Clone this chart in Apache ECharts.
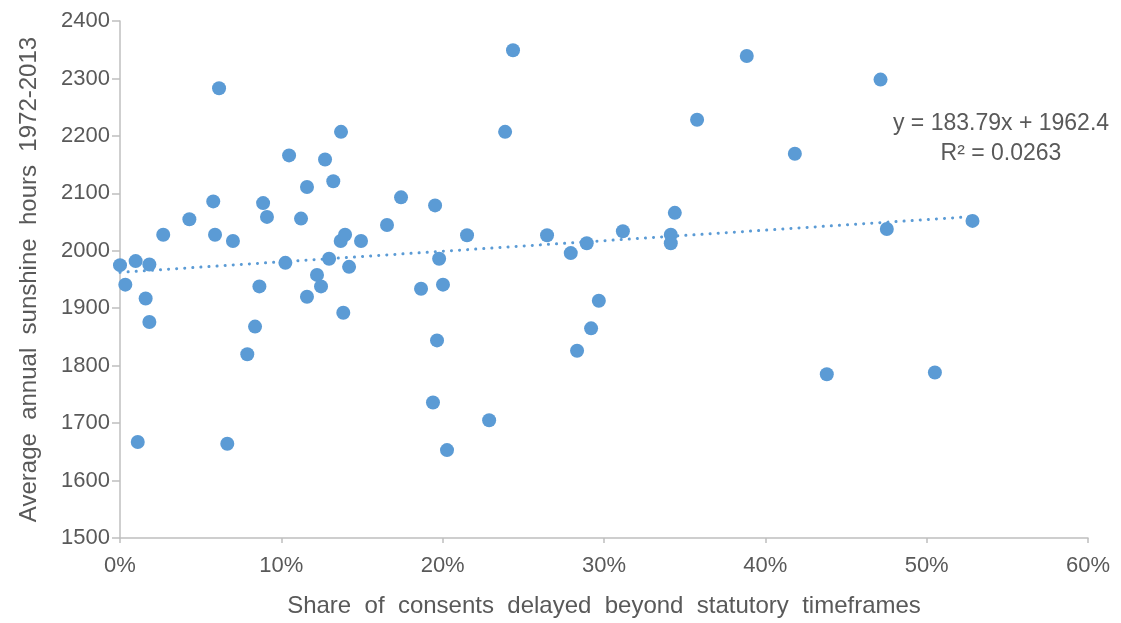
<!DOCTYPE html>
<html>
<head>
<meta charset="utf-8">
<script src="https://cdn.jsdelivr.net/npm/echarts@6/dist/echarts.min.js"></script>
<style>
html,body{margin:0;padding:0;background:#fff;}
#chart{width:1121px;height:623px;}
</style>
</head>
<body>
<div id="chart"></div>
<script>
// Share of consents delayed (fraction)
var shareDelayed = [
  0.0000, 0.0033, 0.0097, 0.0182, 0.0159, 0.0182, 0.0110, 0.0268, 0.0430, 0.0578,
  0.0589, 0.0614, 0.0700, 0.0665, 0.0789, 0.0837, 0.0864, 0.0887, 0.0911, 0.1048,
  0.1025, 0.1122, 0.1159, 0.1159, 0.1221, 0.1246, 0.1271, 0.1322, 0.1296, 0.1370,
  0.1368, 0.1395, 0.1384, 0.1420, 0.1494, 0.1655, 0.1742, 0.2436, 0.2387, 0.1953,
  0.2151, 0.1978, 0.1866, 0.2002, 0.1965, 0.1940, 0.2288, 0.2027, 0.2647, 0.2794,
  0.2893, 0.2968, 0.2920, 0.2833, 0.3117, 0.3439, 0.3414, 0.3414, 0.3885, 0.4714,
  0.3577, 0.4183, 0.4753, 0.5284, 0.4381, 0.5051
];
// Average annual sunshine hours 1972-2013
var sunshineHours = [
  1975, 1941, 1982, 1976, 1917, 1876, 1667, 2028, 2055, 2086,
  2028, 2283, 2017, 1664, 1820, 1868, 1938, 2083, 2059, 2166,
  1979, 2056, 2111, 1920, 1958, 1938, 2159, 2121, 1986, 2207,
  2017, 2028, 1892, 1972, 2017, 2045, 2093, 2349, 2207, 2079,
  2027, 1986, 1934, 1941, 1844, 1736, 1705, 1653, 2027, 1996,
  2013, 1913, 1865, 1826, 2034, 2066, 2028, 2013, 2339, 2298,
  2228, 2169, 2038, 2052, 1785, 1788
];
var trendSlope = 183.79;
var trendIntercept = 1962.4;
var trendLabel = 'y = 183.79x + 1962.4\nR² = 0.0263';
var xAxisTitle = 'Share  of  consents  delayed  beyond  statutory  timeframes';
var yAxisTitle = 'Average  annual  sunshine  hours  1972-2013';

var points = shareDelayed.map(function (x, i) { return [x, sunshineHours[i]]; });
var xMin = Math.min.apply(null, shareDelayed);
var xMax = Math.max.apply(null, shareDelayed);
var trend = [[xMin, trendSlope * xMin + trendIntercept], [xMax, trendSlope * xMax + trendIntercept]];

var textColor = '#595959';
var axisColor = '#bfbfbf';
var font = 'Liberation Sans, Arial, sans-serif';

var chart = echarts.init(document.getElementById('chart'), null, {renderer: 'canvas'});
chart.setOption({
  animation: false,
  backgroundColor: '#ffffff',
  grid: {left: 120, right: 33, top: 21, bottom: 84, containLabel: false},
  xAxis: {
    type: 'value', min: 0, max: 0.6, interval: 0.1,
    name: xAxisTitle, nameLocation: 'middle', nameGap: 56,
    nameTextStyle: {color: textColor, fontSize: 24, fontFamily: font},
    axisLine: {show: true, lineStyle: {color: axisColor, width: 1.5}},
    axisTick: {show: true, length: 5, lineStyle: {color: axisColor, width: 1.5}},
    axisLabel: {color: textColor, fontSize: 22, fontFamily: font, margin: 17,
      formatter: function (v) { return Math.round(v * 100) + '%'; }},
    splitLine: {show: false}
  },
  yAxis: {
    type: 'value', min: 1500, max: 2400, interval: 100,
    name: yAxisTitle, nameLocation: 'middle', nameGap: 79, nameRotate: 90,
    nameTextStyle: {color: textColor, fontSize: 24, fontFamily: font},
    axisLine: {show: true, lineStyle: {color: axisColor, width: 1.5}},
    axisTick: {show: true, length: 8, lineStyle: {color: axisColor, width: 1.5}},
    axisLabel: {color: textColor, fontSize: 22, fontFamily: font, margin: 10,
      formatter: function (v) { return String(v); }},
    splitLine: {show: false}
  },
  graphic: [{
    type: 'text', x: 1001, y: 109,
    style: {text: trendLabel, fill: textColor, font: '23px ' + font, textAlign: 'center', textVerticalAlign: 'top', lineHeight: 30}
  }],
  series: [{
    type: 'scatter', data: points, symbol: 'circle', symbolSize: 14,
    itemStyle: {color: '#5b9bd5', opacity: 1},
    z: 3
  }, {
    type: 'line', data: trend, showSymbol: false, symbol: 'none',
    lineStyle: {color: '#5b9bd5', width: 3, type: [0.1, 8], cap: 'round'},
    z: 2, silent: true
  }]
});
</script>
</body>
</html>
